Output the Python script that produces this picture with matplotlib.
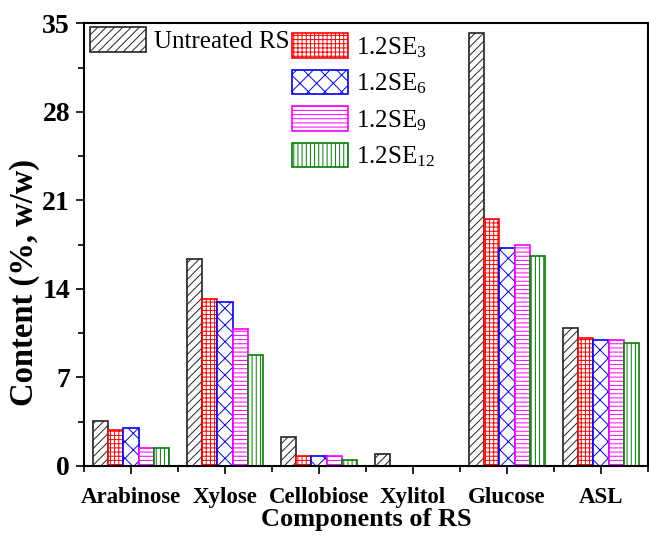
import numpy as np
import matplotlib.pyplot as plt
from matplotlib.ticker import MultipleLocator, FixedLocator

plt.rcParams['font.family'] = ['Liberation Serif', 'DejaVu Serif']
plt.rcParams['mathtext.fontset'] = 'custom'
plt.rcParams['mathtext.rm'] = 'Liberation Serif'
plt.rcParams['mathtext.it'] = 'Liberation Serif:italic'
plt.rcParams['hatch.linewidth'] = 0.7

components = ["Arabinose", "Xylose", "Cellobiose", "Xylitol", "Glucose", "ASL"]
untreated = [3.55, 16.33, 2.3, 0.95, 34.2, 10.93]
se3 = [2.84, 13.2, 0.79, 0.0, 19.56, 10.09]
se6 = [3.03, 12.98, 0.79, 0.0, 17.2, 10.0]
se9 = [1.4, 10.8, 0.77, 0.0, 17.5, 9.93]
se12 = [1.4, 8.77, 0.47, 0.0, 16.64, 9.72]

series = [
    ("Untreated RS", untreated, "#222222", "////"),
    ("1.2SE$\\mathregular{_3}$", se3, "red", "++++"),
    ("1.2SE$\\mathregular{_6}$", se6, "blue", "xx"),
    ("1.2SE$\\mathregular{_9}$", se9, "magenta", "----"),
    ("1.2SE$\\mathregular{_{12}}$", se12, "green", "||||"),
]

fig = plt.figure(figsize=(6.49, 5.36), dpi=100)
ax = fig.add_axes([0.1294, 0.1306, 0.869, 0.826])

x = np.arange(len(components))
w = 0.162
handles = []
for i, (name, vals, col, hatch) in enumerate(series):
    b = ax.bar(x + (i - 2) * w, vals, w, facecolor="white", edgecolor=col,
               hatch=hatch, linewidth=1.2, label=name)
    handles.append(b)

ax.set_xlim(-0.5, 5.5)
ax.set_ylim(0, 35)
ax.set_xticks(x)
ax.set_xticklabels(components, fontsize=16.5, fontweight="bold")
ax.xaxis.set_minor_locator(FixedLocator(np.arange(-0.5, 6, 1)))
ax.yaxis.set_major_locator(MultipleLocator(7))
ax.yaxis.set_minor_locator(MultipleLocator(3.5))
ax.tick_params(axis="y", labelsize=20, direction="out", length=6, width=1.2, pad=4)
for lab in ax.get_yticklabels():
    lab.set_fontweight("bold")
ax.tick_params(axis="x", which="major", direction="out", length=6, width=1.2, pad=9)
ax.tick_params(which="minor", direction="out", length=4, width=1.2)
for s in ax.spines.values():
    s.set_linewidth(1.5)

ax.set_xlabel("Components of RS", fontsize=19, fontweight="bold", labelpad=0)
ax.set_ylabel("Content (%, w/w)", fontsize=23.5, fontweight="bold")
ax.yaxis.set_label_coords(-0.078, 0.415)

leg_kw = dict(fontsize=18, frameon=False, handlelength=2.24, handleheight=1.12,
              handletextpad=0.3, borderpad=0, borderaxespad=0, loc="upper left")
leg1 = ax.legend(handles=handles[:1], bbox_to_anchor=(0.011, 0.991), **leg_kw)
ax.add_artist(leg1)
ax.legend(handles=handles[1:], bbox_to_anchor=(0.369, 0.977), labelspacing=0.41,
          **leg_kw)

fig.savefig("out.png", dpi=100)
